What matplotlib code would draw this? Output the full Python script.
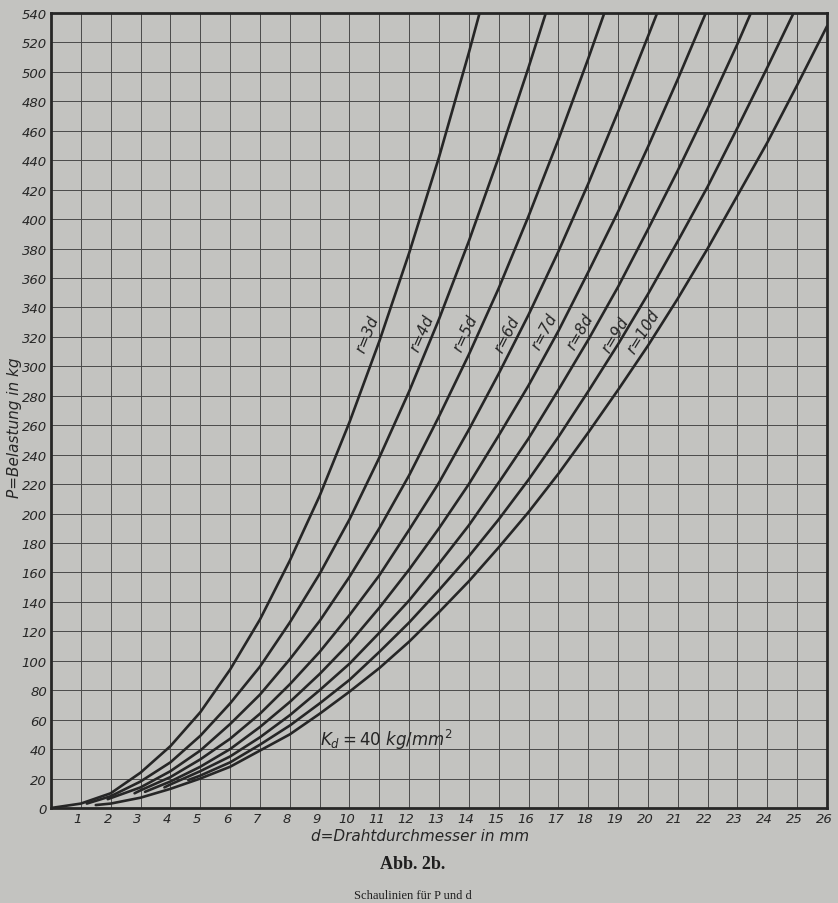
import matplotlib
matplotlib.use("Agg")
import matplotlib.pyplot as plt
import matplotlib.transforms as mtransforms

# readings: d in mm, P in kg, one curve per r = n*d
d_r3 = [0] + list(range(1, 15)) + [14.36]
p_r3 = [0, 3, 10, 24, 42, 65, 94, 128, 168, 212, 262, 317, 377, 442, 513, 540]

d_r4 = [1.2] + list(range(2, 17)) + [16.58]
p_r4 = [3, 8, 18, 31, 49, 71, 96, 126, 159, 196, 238, 283, 332, 385, 442, 503, 540]

d_r5 = [1.9] + list(range(3, 19)) + [18.54]
p_r5 = [6, 14, 25, 39, 57, 77, 101, 127, 157, 190, 226, 266, 308, 353, 402, 454, 509, 540]

d_r6 = [2.8] + list(range(3, 21)) + [20.31]
p_r6 = [10, 12, 21, 33, 47, 64, 84, 106, 131, 158, 189, 221, 257, 295, 335, 378, 424,
        473, 524, 540]

d_r7 = [3.15] + list(range(4, 22)) + [21.94]
p_r7 = [11, 18, 28, 40, 55, 72, 91, 112, 136, 162, 190, 220, 253, 287, 324, 364, 405,
        449, 495, 540]

d_r8 = [3.8] + list(range(4, 24)) + [23.45]
p_r8 = [14, 16, 25, 35, 48, 63, 80, 98, 119, 141, 166, 192, 221, 251, 284, 318, 354,
        393, 433, 475, 519, 540]

d_r9 = [4.6] + list(range(5, 25)) + [24.88]
p_r9 = [19, 22, 31, 43, 56, 71, 87, 106, 126, 148, 171, 196, 223, 252, 283, 315, 349,
        385, 422, 462, 503, 540]

d_r10 = [1.5] + list(range(2, 27))
p_r10 = [2, 3, 7, 13, 20, 28, 39, 50, 64, 79, 95, 113, 133, 154, 177, 201, 227, 255,
         284, 314, 346, 380, 416, 452, 491, 531]

curve_labels = ["r=3d", "r=4d", "r=5d", "r=6d", "r=7d", "r=8d", "r=9d", "r=10d"]
label_d = [10.6, 12.45, 13.9, 15.3, 16.55, 17.72, 18.9, 19.85]
label_p = [322, 323, 323, 322, 324, 324, 322, 324]
label_rot = [68, 66, 65, 63, 62, 60, 59, 58]

x_ticks = list(range(1, 27))
y_ticks = list(range(0, 541, 20))

paper = "#c3c3c0"
ink = "#262626"

fig = plt.figure(figsize=(8.38, 9.04), dpi=100, facecolor=paper)
ax = fig.add_axes([51 / 838, 1 - 809 / 904, 776 / 838, 795 / 904], facecolor=paper)

curves = [(d_r3, p_r3), (d_r4, p_r4), (d_r5, p_r5), (d_r6, p_r6),
          (d_r7, p_r7), (d_r8, p_r8), (d_r9, p_r9), (d_r10, p_r10)]
for d, p in curves:
    ax.plot(d, p, color=ink, lw=1.9, solid_capstyle="round", zorder=3)

for txt, x, y, rot in zip(curve_labels, label_d, label_p, label_rot):
    ax.text(x, y, txt, rotation=rot, ha="center", va="center", fontsize=11,
            style="italic", color=ink, rotation_mode="anchor", zorder=4)

ax.text(9.0, 47, r"$K_d = 40\ kg/mm^2$", fontsize=12, color=ink, ha="left",
        va="center", zorder=4)

ax.set_xlim(0, 26)
ax.set_ylim(0, 540)
ax.set_xticks(x_ticks)
ax.set_xticklabels([str(v) for v in x_ticks])
ax.set_yticks(y_ticks)
ax.set_yticklabels([str(v) for v in y_ticks])
ax.grid(True, color="#4a4a4a", lw=0.7)
ax.set_axisbelow(True)
ax.tick_params(length=0, labelsize=9.5, colors=ink, pad=3)
for lab in ax.get_xticklabels() + ax.get_yticklabels():
    lab.set_style("italic")
shift = mtransforms.ScaledTranslation(-3 / 100, 0, fig.dpi_scale_trans)
for lab in ax.get_xticklabels():
    lab.set_transform(lab.get_transform() + shift)

for sp in ax.spines.values():
    sp.set_linewidth(2.0)
    sp.set_color(ink)

fig.text(420 / 838, 1 - 837 / 904, "d=Drahtdurchmesser in mm", ha="center",
         va="center", fontsize=11, style="italic", color=ink)
fig.text(15 / 838, 1 - 428 / 904, "P=Belastung in kg", ha="center", va="center",
         rotation=90, fontsize=11, style="italic", color=ink)
fig.text(413 / 838, 1 - 865 / 904, "Abb. 2b.", ha="center", va="center",
         fontsize=13, fontweight="bold", family="Liberation Serif", color="#1e1e1e")
fig.text(413 / 838, 1 - 896 / 904, "Schaulinien für P und d", ha="center",
         va="center", fontsize=9, family="Liberation Serif", color="#1e1e1e")

fig.savefig("out.png", dpi=100, facecolor=paper)
